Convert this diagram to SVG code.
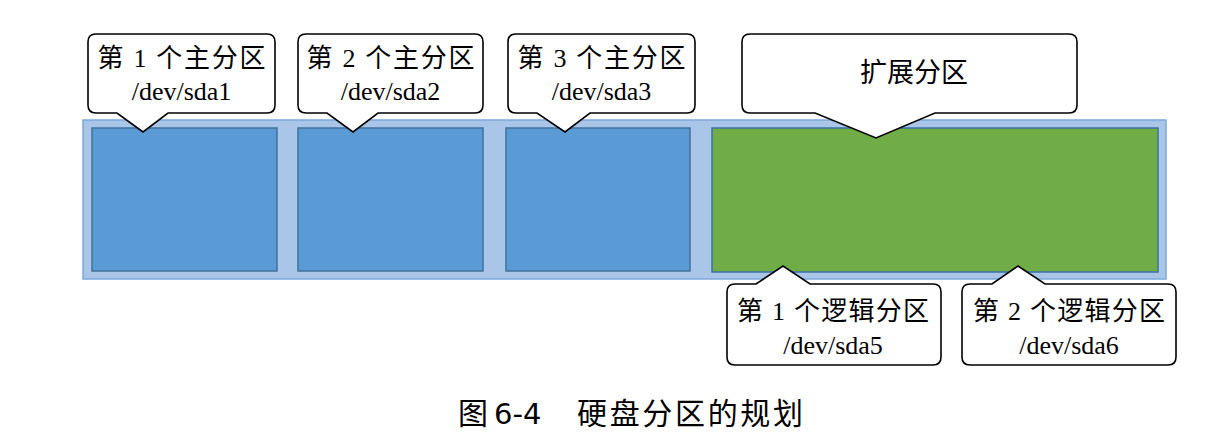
<svg xmlns="http://www.w3.org/2000/svg" width="1214" height="443" viewBox="0 0 1214 443">
<style>
.bar{fill:#a9c5e8;stroke:#7ea9dc;stroke-width:1.5}
.pri{fill:#5b9bd5;stroke:#41719c;stroke-width:1.5}
.ext{fill:#70ad47;stroke:#3e6fa8;stroke-width:1.5}
.call{fill:#ffffff;stroke:#000000;stroke-width:1.6;stroke-linejoin:miter}
.t{font-family:"Liberation Serif","Noto Sans CJK SC",serif;font-size:26px;fill:#000;text-anchor:middle}
.cap{font-family:"Liberation Serif","Noto Sans CJK SC",serif;font-size:30px;fill:#000}
.num{font-family:"DejaVu Sans",sans-serif;font-size:29px;fill:#000}
</style>
<g id="disk">
<rect class="bar" x="83" y="120" width="1083" height="159"/>
</g>
<g id="sda1-part"><rect class="pri" x="92" y="128" width="185" height="143"/></g>
<g id="sda2-part"><rect class="pri" x="298" y="128" width="185" height="143"/></g>
<g id="sda3-part"><rect class="pri" x="506" y="128" width="184" height="143"/></g>
<g id="extended-part"><rect class="ext" x="712" y="128" width="446" height="144"/></g>
<g id="connectors"></g>
<g id="callout-sda1">
<path class="call" d="M96,34 H267 Q275,34 275,42 V105 Q275,113 267,113 H168 L143,132 L117,113 H96 Q88,113 88,105 V42 Q88,34 96,34 Z"/>
<text class="t" x="181.5" y="67" textLength="168" lengthAdjust="spacing">第 1 个主分区</text>
<text class="t" x="181.5" y="100">/dev/sda1</text>
</g>
<g id="callout-sda2">
<path class="call" d="M306,34 H475 Q483,34 483,42 V105 Q483,113 475,113 H378 L353,132 L327,113 H306 Q298,113 298,105 V42 Q298,34 306,34 Z"/>
<text class="t" x="390.5" y="67" textLength="168" lengthAdjust="spacing">第 2 个主分区</text>
<text class="t" x="390.5" y="100">/dev/sda2</text>
</g>
<g id="callout-sda3">
<path class="call" d="M516,34 H687 Q695,34 695,42 V105 Q695,113 687,113 H590 L565,132 L537,113 H516 Q508,113 508,105 V42 Q508,34 516,34 Z"/>
<text class="t" x="601.5" y="67" textLength="168" lengthAdjust="spacing">第 3 个主分区</text>
<text class="t" x="601.5" y="100">/dev/sda3</text>
</g>
<g id="callout-extended">
<path class="call" d="M750,34 H1069 Q1077,34 1077,42 V105 Q1077,113 1069,113 H935 L876,138 L815,113 H750 Q742,113 742,105 V42 Q742,34 750,34 Z"/>
<text class="t" x="914" y="82" style="font-size:27px">扩展分区</text>
</g>
<g id="callout-sda5">
<path class="call" d="M735,284 H756 L783,266 L810,284 H933 Q941,284 941,292 V357 Q941,365 933,365 H735 Q727,365 727,357 V292 Q727,284 735,284 Z"/>
<text class="t" x="833" y="320" textLength="192" lengthAdjust="spacing">第 1 个逻辑分区</text>
<text class="t" x="833" y="354">/dev/sda5</text>
</g>
<g id="callout-sda6">
<path class="call" d="M970,284 H992 L1018,266 L1045,284 H1168 Q1176,284 1176,292 V357 Q1176,365 1168,365 H970 Q962,365 962,357 V292 Q962,284 970,284 Z"/>
<text class="t" x="1069" y="320" textLength="192" lengthAdjust="spacing">第 2 个逻辑分区</text>
<text class="t" x="1069" y="354">/dev/sda6</text>
</g>
<g id="caption">
<text class="cap" x="458" y="424">图</text>
<text class="num" x="494" y="424">6-4</text>
<text class="cap" x="577" y="424" textLength="226" lengthAdjust="spacing">硬盘分区的规划</text>
</g>
</svg>
